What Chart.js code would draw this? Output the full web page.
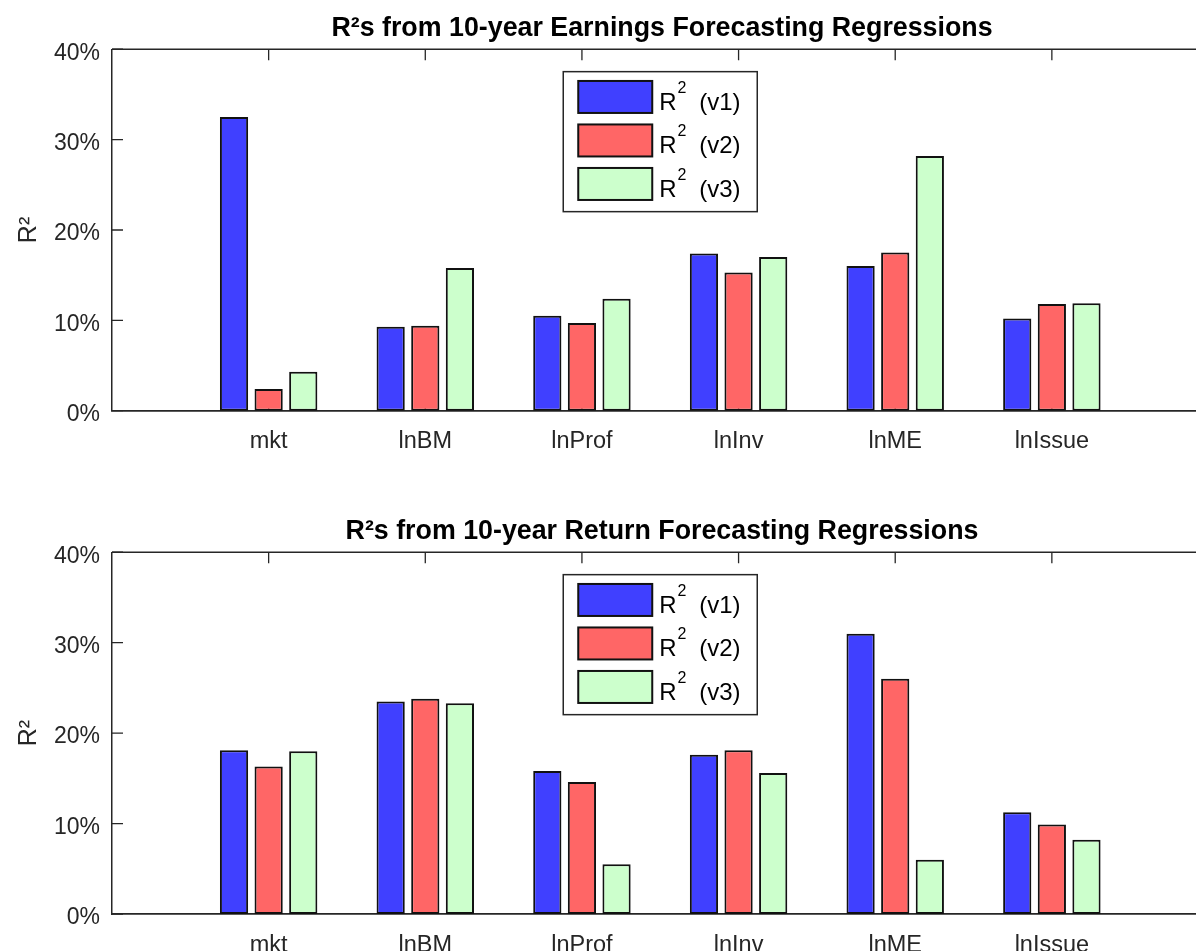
<!DOCTYPE html>
<html><head><meta charset="utf-8">
<script src="https://cdn.jsdelivr.net/npm/chart.js@4.4.1/dist/chart.umd.min.js"></script>
<style>
html,body{margin:0;padding:0;background:#fff;overflow:hidden;width:1196px;height:951px;}
.wrap{position:absolute;left:0;width:1324px;}
#w1{top:0;height:476px;}
#w2{top:476px;height:500px;}
canvas{display:block;}
</style></head><body>
<div class="wrap" id="w1"><canvas id="c1" width="1324" height="476"></canvas></div>
<div class="wrap" id="w2"><canvas id="c2" width="1324" height="500"></canvas></div>
<script>
const categories = ['mkt','lnBM','lnProf','lnInv','lnME','lnIssue'];
const seriesLabels = ['R² (v1)','R² (v2)','R² (v3)'];
const seriesColors = ['#4040ff','#ff6666','#ccffcc'];
const earningsV1 = [0.325,0.093,0.105,0.174,0.160,0.102];
const earningsV2 = [0.024,0.094,0.097,0.153,0.175,0.118];
const earningsV3 = [0.043,0.158,0.124,0.170,0.282,0.119];
const returnsV1 = [0.181,0.235,0.158,0.176,0.310,0.1125];
const returnsV2 = [0.163,0.238,0.146,0.181,0.260,0.099];
const returnsV3 = [0.180,0.233,0.055,0.156,0.060,0.082];
const yTickValues = [0,0.1,0.2,0.3,0.4];
const yTickLabels = ['0%','10%','20%','30%','40%'];
const yAxisTitle = 'R²';
const titleTop = 'R²s from 10-year Earnings Forecasting Regressions';
const titleBottom = 'R²s from 10-year Return Forecasting Regressions';

const FONT = "'Liberation Sans', Arial, Helvetica, sans-serif";
const AX = '#262626';

function drawSupLabel(ctx, text, x, baseline) {
  const parts = text.split('²');
  ctx.fillStyle = '#000';
  ctx.textBaseline = 'alphabetic';
  ctx.textAlign = 'left';
  ctx.font = '24px ' + FONT;
  ctx.fillText(parts[0], x, baseline);
  let cx = x + ctx.measureText(parts[0]).width;
  if (parts.length > 1) {
    ctx.font = '16px ' + FONT;
    ctx.fillText('2', cx + 1, baseline - 17);
    cx += 1 + ctx.measureText('2').width + 6;
    ctx.font = '24px ' + FONT;
    ctx.fillText(parts[1], cx, baseline);
  }
}

const matlabAxes = {
  id: 'matlabAxes',
  beforeDatasetsDraw(chart) {
    const {ctx, chartArea: a, scales: {x, y}} = chart;
    ctx.save();
    ctx.strokeStyle = AX; ctx.lineWidth = 1.3;
    ctx.beginPath();
    categories.forEach((c, i) => {
      const px = x.getPixelForValue(i + 1);
      ctx.moveTo(px, a.bottom); ctx.lineTo(px, a.bottom - 11);
    });
    yTickValues.forEach(v => {
      const py = y.getPixelForValue(v);
      ctx.moveTo(a.left, py); ctx.lineTo(a.left + 11, py);
    });
    ctx.stroke();
    ctx.restore();
  },
  afterDatasetsDraw(chart) {
    const {ctx, chartArea: a, scales: {x}} = chart;
    ctx.save();
    ctx.strokeStyle = AX; ctx.lineWidth = 1.5;
    ctx.beginPath();
    ctx.moveTo(a.left, a.top); ctx.lineTo(a.right, a.top);
    ctx.stroke();
    ctx.lineWidth = 1.3;
    ctx.beginPath();
    categories.forEach((c, i) => {
      const px = x.getPixelForValue(i + 1);
      ctx.moveTo(px, a.top); ctx.lineTo(px, a.top + 11);
    });
    ctx.stroke();
    // legend
    const boxW = 194, boxH = 140;
    const cx = (a.left + a.right) / 2;
    const left = cx - boxW / 2, top = a.top + 22.4;
    ctx.fillStyle = '#fff';
    ctx.fillRect(left, top, boxW, boxH);
    ctx.strokeStyle = AX; ctx.lineWidth = 1.5;
    ctx.strokeRect(left, top, boxW, boxH);
    chart.data.datasets.forEach((ds, i) => {
      const py = top + 9.3 + i * 43.5;
      ctx.fillStyle = ds.backgroundColor;
      ctx.fillRect(left + 15, py, 74, 32);
      ctx.strokeStyle = '#111'; ctx.lineWidth = 2;
      ctx.strokeRect(left + 15, py, 74, 32);
      drawSupLabel(ctx, ds.label, left + 96, py + 29);
    });
    ctx.restore();
  }
};

function makeChart(id, title, values, titlePadTop, xHeight) {
  const labels = [''].concat(categories, ['']);
  const datasets = values.map((vals, i) => ({
    label: seriesLabels[i],
    data: [null].concat(vals, [null]),
    backgroundColor: seriesColors[i],
    borderColor: '#111',
    borderWidth: 2,
    borderSkipped: false,
    categoryPercentage: 0.663,
    barPercentage: 0.815
  }));
  return new Chart(document.getElementById(id), {
    type: 'bar',
    data: { labels, datasets },
    plugins: [matlabAxes],
    options: {
      responsive: false,
      animation: false,
      devicePixelRatio: 1,
      layout: { padding: 0 },
      plugins: {
        legend: { display: false },
        tooltip: { enabled: false },
        title: {
          display: true, text: title, color: '#000',
          font: { family: FONT, size: 26.8, weight: 'bold', lineHeight: 1.2 },
          padding: { top: titlePadTop, bottom: 4.1 }
        }
      },
      scales: {
        x: {
          type: 'category', offset: false,
          grid: { display: false, drawTicks: false },
          border: { display: true, color: AX, width: 1.8 },
          ticks: { color: AX, font: { family: FONT, size: 23.5 }, padding: 17, autoSkip: false, maxRotation: 0 },
          afterFit(s) { s.height = xHeight; }
        },
        y: {
          type: 'linear', min: 0, max: 0.4, position: 'left',
          afterBuildTicks(s) { s.ticks = yTickValues.map(v => ({ value: v })); },
          grid: { display: false, drawTicks: false },
          border: { display: true, color: AX, width: 1.5 },
          ticks: { color: AX, font: { family: FONT, size: 23 }, padding: 12, labelOffset: 4,
                   callback: (v, i) => yTickLabels[i] },
          title: { display: true, text: yAxisTitle, color: AX, font: { family: FONT, size: 25 }, padding: { top: 14, bottom: 0 } },
          afterFit(s) { s.width = 112; }
        },
        yR: {
          type: 'linear', position: 'right', display: true,
          grid: { display: false, drawTicks: false },
          border: { display: false },
          ticks: { display: false },
          afterFit(s) { s.width = 115.5; }
        }
      }
    }
  });
}

makeChart('c1', titleTop, [earningsV1, earningsV2, earningsV3], 13, 65.3);
makeChart('c2', titleBottom, [returnsV1, returnsV2, returnsV3], 40, 62);
</script>
</body></html>
